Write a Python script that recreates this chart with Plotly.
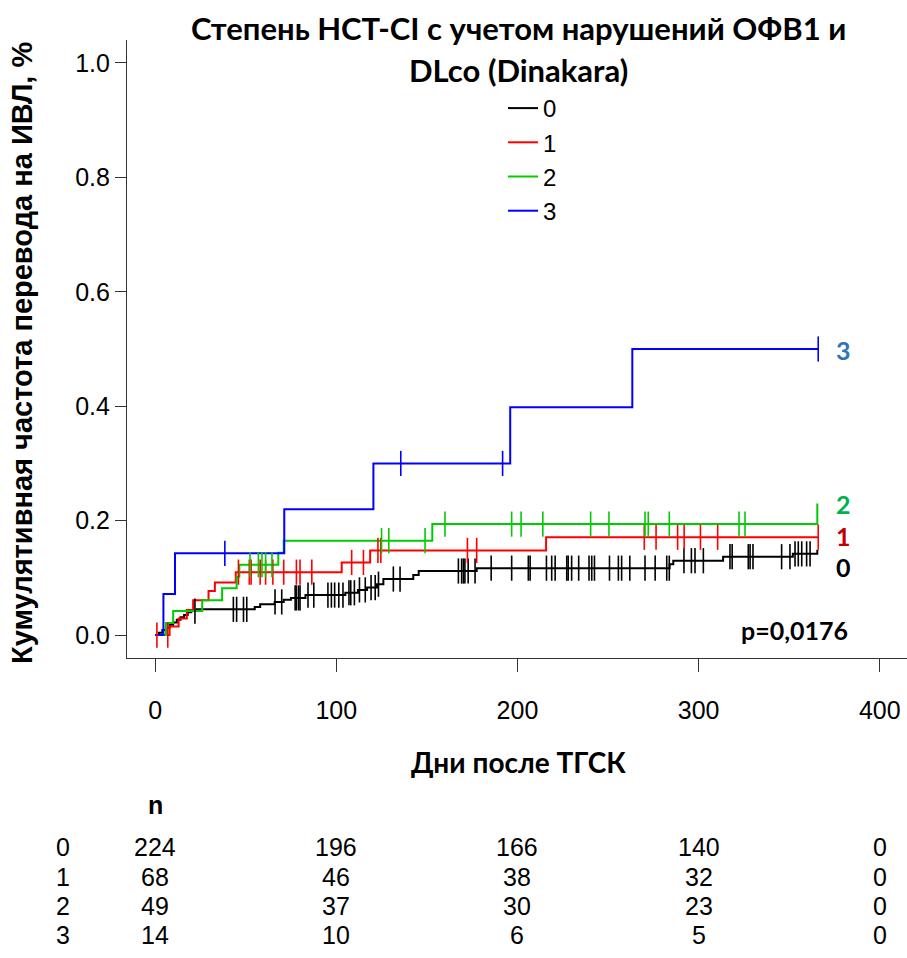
import numpy as np
import plotly.graph_objects as go

# ---------------- data ----------------
groups = ["0", "1", "2", "3"]
colors = ["#000000", "#ff0000", "#00cc00", "#0000ff"]

# step vertices (day, cumulative incidence)
g0_days = [0, 2, 4, 6, 8, 10, 12, 14, 16, 18, 20, 23, 55, 58, 66, 71, 75, 83, 105, 112, 117, 122.5, 126, 142.5, 145.5, 177.5, 284, 286, 313.5, 352, 365.5]
g0_vals = [0, 0.004, 0.009, 0.013, 0.018, 0.022, 0.027, 0.031, 0.035, 0.040, 0.042, 0.045, 0.049, 0.054, 0.058, 0.062, 0.065, 0.070, 0.074, 0.079, 0.083, 0.089, 0.098, 0.105, 0.112, 0.117, 0.124, 0.130, 0.137, 0.142, 0.149]
g0_cens = [22, 43.2, 45, 48.8, 50.6, 66.2, 69.9, 77.3, 78, 79.2, 80, 84.4, 87.6, 95.4, 97.3, 99.1, 101.4, 103.7, 107, 108, 110, 112.8, 116, 119.2, 121.5, 123.3, 131.5, 135.2, 167.4, 169.2, 170.2, 171, 172.8, 176.6, 185.5, 196.8, 206, 207, 216, 218.9, 220.8, 227.2, 228, 229.9, 233.8, 239.5, 241, 242.5, 250.8, 255.7, 257.5, 262, 270.4, 276, 282.4, 283.8, 291.9, 296, 298, 302.6, 317.3, 318.5, 327.4, 328.4, 330, 345.8, 350.4, 353.2, 355, 356.9, 359.6, 361.5]

g1_days = [0, 8, 13, 17.5, 21, 29.5, 33, 44.5, 103, 118.7, 215.8, 366]
g1_vals = [0, 0.015, 0.029, 0.044, 0.061, 0.077, 0.092, 0.110, 0.127, 0.148, 0.171, 0.171]
g1_cens = [1, 7, 46, 52, 53, 58, 61, 65, 71, 78, 80, 86.5, 108.5, 115, 123, 124.6, 172.4, 177.5, 270, 276.5, 288.4, 292, 301, 310.5, 366]

g2_days = [0, 6, 10, 26, 37, 45, 46.5, 68, 71, 153, 365.5]
g2_vals = [0, 0.021, 0.042, 0.061, 0.082, 0.102, 0.123, 0.144, 0.165, 0.194, 0.23]
g2_cens = [52.4, 57, 59, 61, 64.5, 125, 129, 149, 160, 196.8, 202, 214, 240.4, 250.5, 270.4, 272.2, 283.8, 322.3, 325.6]

g3_days = [0, 4.6, 11, 71.3, 120.5, 196, 263.4, 366]
g3_vals = [0, 0.072, 0.143, 0.220, 0.300, 0.398, 0.500, 0.500]
g3_cens = [38.5, 135.6, 191.8, 366]

all_days = [g0_days, g1_days, g2_days, g3_days]
all_vals = [g0_vals, g1_vals, g2_vals, g3_vals]
all_cens = [g0_cens, g1_cens, g2_cens, g3_cens]

# numbers at risk
risk_times = [0, 100, 200, 300, 400]
risk_0 = [224, 196, 166, 140, 0]
risk_1 = [68, 46, 38, 32, 0]
risk_2 = [49, 37, 30, 23, 0]
risk_3 = [14, 10, 6, 5, 0]
risk_rows = [risk_0, risk_1, risk_2, risk_3]

end_labels = ["0", "1", "2", "3"]
end_label_colors = ["#000000", "#c00000", "#00b050", "#2e75b6"]
end_label_y = [0.119, 0.173, 0.230, 0.498]
p_text = "p=0,0176"

title_l1 = "Степень HCT-CI с учетом нарушений ОФВ1 и"
title_l2 = "DLco (Dinakara)"
x_title = "Дни после ТГСК"
y_title = "Кумулятивная частота перевода на ИВЛ, %"

# ---------------- figure ----------------
SANS = "Liberation Sans, Arial, sans-serif"
CAL = "Lato, Open Sans, sans-serif"

fig = go.Figure()

for i, g in enumerate(groups):
    d = np.array(all_days[i]); v = np.array(all_vals[i])
    fig.add_trace(go.Scatter(x=d, y=v, mode="lines", line=dict(color=colors[i], width=2, shape="hv"),
                             name=g, legendgroup=g, showlegend=True, hoverinfo="skip"))
for i, g in enumerate(groups):
    d = np.array(all_days[i]); v = np.array(all_vals[i])
    c = np.array(all_cens[i])
    idx = np.searchsorted(d, c, side="right") - 1
    cy = v[idx]
    fig.add_trace(go.Scatter(x=c, y=cy, mode="markers",
                             marker=dict(symbol="line-ns-open", size=18, color=colors[i],
                                         line=dict(color=colors[i], width=1.6)),
                             legendgroup=g, showlegend=False, hoverinfo="skip"))

def py(p):
    return (658 - p) / 618

ann = []
# title
ann.append(dict(text=f"<b>{title_l1}</b>", x=0.5013, y=py(28), xref="paper", yref="paper",
                showarrow=False, font=dict(family=CAL, size=31, color="black"), xanchor="center", yanchor="middle"))
ann.append(dict(text=f"<b>{title_l2}</b>", x=0.5013, y=py(70), xref="paper", yref="paper",
                showarrow=False, font=dict(family=CAL, size=31, color="black"), xanchor="center", yanchor="middle"))
# end labels
for lab, col, yy in zip(end_labels, end_label_colors, end_label_y):
    ann.append(dict(text=f"<b>{lab}</b>", x=379.7, y=yy, xref="x", yref="y", showarrow=False,
                    font=dict(family=CAL, size=25, color=col), xanchor="center", yanchor="middle"))
ann.append(dict(text=f"<b>{p_text}</b>", x=353, y=0.009, xref="x", yref="y", showarrow=False,
                font=dict(family=CAL, size=25, color="black"), xanchor="center", yanchor="middle"))
# axis titles
ann.append(dict(text=f"<b>{x_title}</b>", x=0.5013, y=py(762), xref="paper", yref="paper", showarrow=False,
                font=dict(family=CAL, size=28, color="black"), xanchor="center", yanchor="middle"))
ann.append(dict(text=f"<b>{y_title}</b>", x=(22 - 127) / 780, y=py(353), xref="paper", yref="paper", showarrow=False,
                textangle=-90, font=dict(family=SANS, size=29, color="black"),
                xanchor="center", yanchor="middle"))
# risk table
ann.append(dict(text="<b>n</b>", x=0, y=py(805), xref="x", yref="paper", showarrow=False,
                font=dict(family=SANS, size=25, color="black"), xanchor="center", yanchor="middle"))
row_py = [847, 877, 906, 935]
for r, (g, row) in enumerate(zip(groups, risk_rows)):
    yy = py(row_py[r])
    ann.append(dict(text=g, x=(63 - 127) / 780, y=yy, xref="paper", yref="paper", showarrow=False,
                    font=dict(family=SANS, size=25, color="black"), xanchor="center", yanchor="middle"))
    for t, n in zip(risk_times, row):
        ann.append(dict(text=str(n), x=t, y=yy, xref="x", yref="paper", showarrow=False,
                        font=dict(family=SANS, size=25, color="black"), xanchor="center", yanchor="middle"))

fig.update_layout(
    width=907, height=958,
    margin=dict(l=127, r=0, t=40, b=300),
    paper_bgcolor="white", plot_bgcolor="white",
    showlegend=True,
    legend=dict(x=(503 - 127) / 780, y=py(86), xanchor="left", yanchor="top",
                bgcolor="rgba(0,0,0,0)", borderwidth=0, tracegroupgap=0,
                font=dict(family=SANS, size=24, color="black")),
    annotations=ann,
    xaxis=dict(range=[-15.5, 415], tickvals=risk_times, ticktext=[str(t) for t in risk_times],
               showgrid=False, zeroline=False, showline=True, linecolor="#333", linewidth=1.2,
               ticks="outside", ticklen=13, tickcolor="#333", tickwidth=1.2,
               ticklabelstandoff=17, tickfont=dict(family=SANS, size=25, color="black")),
    yaxis=dict(range=[-0.04, 1.04], tickvals=[0, 0.2, 0.4, 0.6, 0.8, 1.0],
               ticktext=["0.0", "0.2", "0.4", "0.6", "0.8", "1.0"],
               showgrid=False, zeroline=False, showline=True, linecolor="#333", linewidth=1.2,
               ticks="outside", ticklen=11, tickcolor="#333", tickwidth=1.2,
               tickfont=dict(family=SANS, size=25, color="black")),
)

fig.write_html("out.html")
